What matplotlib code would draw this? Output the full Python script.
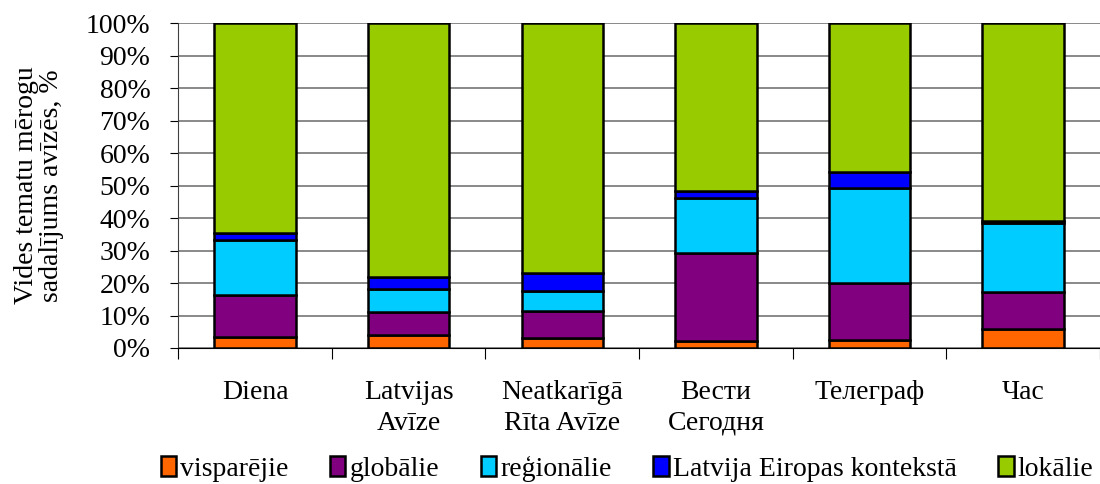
import numpy as np
import matplotlib.pyplot as plt
from matplotlib.ticker import PercentFormatter

plt.rcParams['font.family'] = ['Liberation Serif', 'DejaVu Serif']

# Data (shares, %)
papers = ['Diena', 'Latvijas\nAvīze', 'Neatkarīgā\nRīta Avīze', 'Вести\nСегодня', 'Телеграф', 'Час']
visparejie = [3.4, 4.1, 3.0, 2.2, 2.5, 5.7]
globalie = [13.0, 6.9, 8.3, 27.0, 17.4, 11.4]
regionalie = [16.7, 7.2, 6.2, 17.0, 29.4, 21.3]
eiropas = [2.2, 3.7, 5.5, 2.0, 5.0, 0.7]
lokalie = [64.7, 78.1, 77.0, 51.8, 45.7, 60.9]

series = [visparejie, globalie, regionalie, eiropas, lokalie]
names = ['visparējie', 'globālie', 'reģionālie', 'Latvija Eiropas kontekstā', 'lokālie']
colors = ['#ff6600', '#800080', '#00ccff', '#0000ff', '#99cc00']

fs = 20

fig = plt.figure(figsize=(11, 4.84), dpi=100)
ax = fig.add_axes([0.162, 0.281, 0.838, 0.671])

x = np.arange(len(papers))
bottom = np.zeros(len(papers))
for vals, name, col in zip(series, names, colors):
    ax.bar(x, vals, 0.53, bottom=bottom, color=col, edgecolor='black',
           linewidth=1.8, label=name, zorder=3)
    bottom += np.array(vals)

ax.set_xlim(-0.5, len(papers) - 0.5)
ax.set_ylim(0, 100)
ax.set_yticks(np.arange(0, 101, 10))
ax.yaxis.set_major_formatter(PercentFormatter(decimals=0))
ax.grid(axis='y', color='#808080', linewidth=1.3, zorder=0)

# category boundary ticks below the axis
ax.set_xticks(np.arange(-0.5, len(papers), 1.0))
ax.set_xticklabels([])
ax.set_xticks(x, minor=True)
ax.set_xticklabels(papers, minor=True, fontsize=fs, linespacing=1.3)
ax.tick_params(axis='x', which='minor', length=0, pad=23)
ax.tick_params(axis='x', which='major', length=8, direction='out', color='black')
ax.tick_params(axis='y', labelsize=fs, length=6, color='black', pad=14)

for s in ['top', 'right']:
    ax.spines[s].set_visible(False)
ax.spines['left'].set_color('#404040')
ax.spines['bottom'].set_color('black')

ax.set_ylabel('Vides tematu mērogu\nsadalījums avīzēs, %', fontsize=fs, linespacing=1.0,
              labelpad=16)

fig.legend(loc='lower center', bbox_to_anchor=(0.57, -0.03), ncol=5, frameon=False,
           fontsize=fs, handlelength=0.55, handleheight=0.7, handletextpad=0.15,
           columnspacing=1.5, borderaxespad=0.2)

fig.savefig('out.png', dpi=100)
